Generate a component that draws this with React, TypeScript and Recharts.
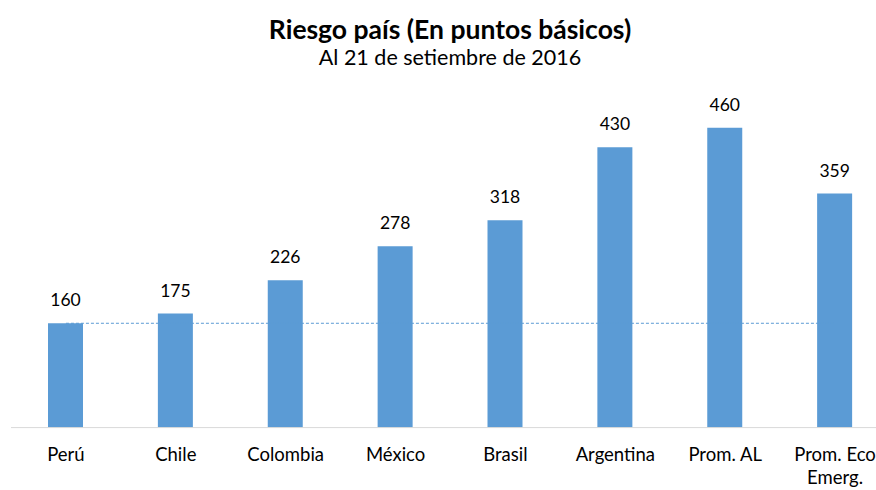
import React from 'react';
import { BarChart, Bar, XAxis, YAxis, LabelList, ReferenceLine, Text } from 'recharts';

const categories = ['Perú', 'Chile', 'Colombia', 'México', 'Brasil', 'Argentina', 'Prom. AL', 'Prom. Eco Emerg.'];
const riesgo = [160, 175, 226, 278, 318, 430, 460, 359];
const referenceValue = 160;

const data = categories.map((name, i) => ({ name, value: riesgo[i] }));

const FONT = 'Lato, "Open Sans", sans-serif';

const CategoryTick = (props: any) => {
  const { x, y, payload } = props;
  return (
    <Text
      x={x}
      y={y}
      dy={12}
      width={100}
      textAnchor="middle"
      verticalAnchor="start"
      lineHeight="1.25em"
      fontSize={18.5}
      fontFamily={FONT}
      fill="#000"
    >
      {payload.value}
    </Text>
  );
};

const App: React.FC = () => {
  return (
    <div style={{ position: 'absolute', left: 0, top: 0, width: 876, height: 490, overflow: 'hidden', background: '#fff' }}>
      <div style={{ position: 'absolute', left: 0, width: 900, top: 14, textAlign: 'center', fontFamily: FONT, fontWeight: 'bold', fontSize: 26.5, lineHeight: '31px', color: '#000' }}>
        Riesgo país (En puntos básicos)
      </div>
      <div style={{ position: 'absolute', left: 0, width: 900, top: 45, textAlign: 'center', fontFamily: FONT, fontSize: 21.5, lineHeight: '25px', color: '#000' }}>
        Al 21 de setiembre de 2016
      </div>
      <BarChart width={900} height={490} data={data} margin={{ top: 101.6, right: 10, left: 11, bottom: 32.4 }}>
        <XAxis
          dataKey="name"
          axisLine={{ stroke: '#D9D9D9' }}
          tickLine={false}
          tick={<CategoryTick />}
          interval={0}
        />
        <YAxis hide domain={[0, 500]} />
        <ReferenceLine
          segment={[{ x: categories[0], y: referenceValue }, { x: categories[categories.length - 1], y: referenceValue }]}
          stroke="#5B9BD5"
          strokeDasharray="3 2"
          strokeWidth={1}
        />
        <Bar dataKey="value" fill="#5B9BD5" barSize={35} isAnimationActive={false}>
          <LabelList dataKey="value" position="top" offset={17} fontSize={17.5} fontFamily={FONT} fill="#000" />
        </Bar>
      </BarChart>
    </div>
  );
};

export default App;
